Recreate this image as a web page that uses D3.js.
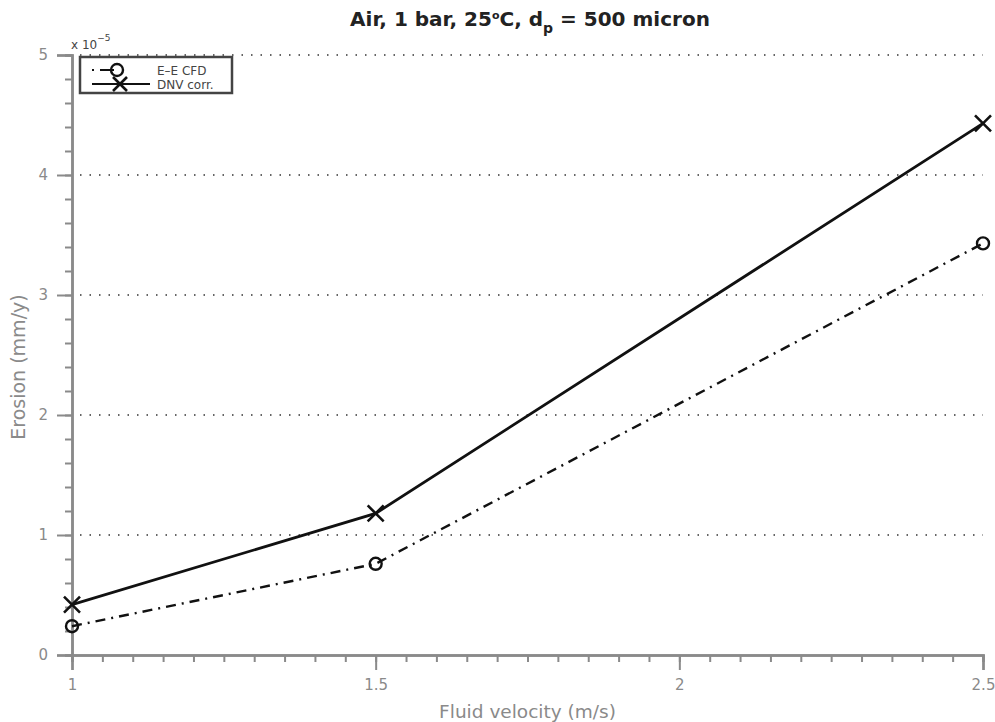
<!DOCTYPE html>
<html><head><meta charset="utf-8">
<script src="https://cdn.jsdelivr.net/npm/d3@7"></script>
<style>body{margin:0;background:#fff}svg{display:block}</style>
</head><body>
<script>
const velocities = [1, 1.5, 2.5];
const eeCfd = [0.24, 0.76, 3.43];
const dnvCorr = [0.42, 1.18, 4.43];
const xTicks = [1, 1.5, 2, 2.5];
const yTicks = [0, 1, 2, 3, 4, 5];
const seriesNames = ["E\u2013E CFD", "DNV corr."];

const W = 995, H = 722;
const svg = d3.select("body").append("svg").attr("width", W).attr("height", H);
const x = d3.scaleLinear().domain([1, 2.5]).range([72, 983]);
const y = d3.scaleLinear().domain([0, 5]).range([655, 55]);
const gray = "#8a8a8a";
const font = "DejaVu Sans, Verdana, sans-serif";

// grid
svg.append("g").selectAll("line").data(yTicks.filter(d => d > 0)).join("line")
  .attr("x1", x(1) + 8).attr("x2", x(2.5)).attr("y1", d => y(d)).attr("y2", d => y(d))
  .attr("stroke", "#333").attr("stroke-width", 1.3).attr("stroke-dasharray", "1.5,8");

// axes
const xAxis = d3.axisBottom(x).tickValues(xTicks).tickSize(15).tickFormat(d3.format("~g")).tickPadding(9);
const xMinor = d3.axisBottom(x).tickValues(d3.range(1, 2.5001, 0.05)).tickSize(7).tickFormat("");
const yAxis = d3.axisLeft(y).tickValues(yTicks).tickSize(15).tickFormat(d3.format("~g")).tickPadding(9);
const yMinor = d3.axisLeft(y).tickValues(d3.range(0, 5.001, 0.2)).tickSize(7).tickFormat("");

function style(g) {
  g.select(".domain").attr("stroke", gray).attr("stroke-width", 2.5);
  g.selectAll(".tick line").attr("stroke", gray).attr("stroke-width", 2);
  g.selectAll(".tick text").attr("fill", gray).attr("font-family", font).attr("font-size", 15);
}
svg.append("g").attr("transform", `translate(0,${y(0)})`).call(xMinor).call(style);
svg.append("g").attr("transform", `translate(0,${y(0)})`).call(xAxis).call(style);
svg.append("g").attr("transform", `translate(${x(1)},0)`).call(yMinor).call(style);
svg.append("g").attr("transform", `translate(${x(1)},0)`).call(yAxis).call(style);

// lines
const ee = velocities.map((v, i) => [v, eeCfd[i]]);
const dnv = velocities.map((v, i) => [v, dnvCorr[i]]);
const line = d3.line().x(d => x(d[0])).y(d => y(d[1]));
svg.append("path").attr("d", line(ee)).attr("fill", "none").attr("stroke", "#111")
  .attr("stroke-width", 2.4).attr("stroke-dasharray", "10,6,2,6");
svg.append("path").attr("d", line(dnv)).attr("fill", "none").attr("stroke", "#111").attr("stroke-width", 2.8);

function circleMark(g, cx, cy) {
  g.append("circle").attr("cx", cx).attr("cy", cy).attr("r", 6).attr("fill", "none").attr("stroke", "#111").attr("stroke-width", 2.4);
}
function crossMark(g, cx, cy, s = 8) {
  g.append("path").attr("d", `M${cx - s},${cy - s}L${cx + s},${cy + s}M${cx - s},${cy + s}L${cx + s},${cy - s}`)
    .attr("stroke", "#111").attr("stroke-width", 2.6);
}
ee.forEach(d => circleMark(svg, x(d[0]), y(d[1])));
dnv.forEach(d => crossMark(svg, x(d[0]), y(d[1])));

// legend
const lg = svg.append("g");
lg.append("rect").attr("x", 80).attr("y", 57).attr("width", 152).attr("height", 36)
  .attr("fill", "#fff").attr("stroke", "#444").attr("stroke-width", 2.5);
lg.append("line").attr("x1", 92).attr("x2", 140).attr("y1", 70).attr("y2", 70)
  .attr("stroke", "#111").attr("stroke-width", 2).attr("stroke-dasharray", "2,6,14,100");
circleMark(lg, 117, 70);
lg.append("line").attr("x1", 92).attr("x2", 150).attr("y1", 84).attr("y2", 84).attr("stroke", "#111").attr("stroke-width", 2.2);
crossMark(lg, 120, 84, 7);
lg.append("text").attr("x", 157).attr("y", 75).text(seriesNames[0])
  .attr("font-family", font).attr("font-size", 12).attr("fill", "#444");
lg.append("text").attr("x", 157).attr("y", 89).text(seriesNames[1])
  .attr("font-family", font).attr("font-size", 12).attr("fill", "#444");

// exponent
const ex = svg.append("text").attr("x", 71).attr("y", 49).attr("font-family", font).attr("font-size", 12).attr("fill", "#444");
ex.append("tspan").text("x 10");
ex.append("tspan").attr("dy", -8).attr("font-size", 9).text("\u22125");

// title
const t = svg.append("text").attr("x", 530).attr("y", 26).attr("text-anchor", "middle")
  .attr("font-family", font).attr("font-size", 20).attr("font-weight", "bold").attr("fill", "#222");
t.append("tspan").text("Air, 1 bar, 25");
t.append("tspan").attr("dy", -7).attr("font-size", 11).text("o");
t.append("tspan").attr("dy", 7).text("C, d");
t.append("tspan").attr("dy", 7).attr("font-size", 14).text("p");
t.append("tspan").attr("dy", -7).text(" = 500 micron");

// axis labels
svg.append("text").attr("x", x(1.75)).attr("y", 718).attr("text-anchor", "middle")
  .attr("font-family", font).attr("font-size", 18.5).attr("fill", gray).text("Fluid velocity (m/s)");
svg.append("text").attr("transform", "translate(25,367) rotate(-90)").attr("text-anchor", "middle")
  .attr("font-family", font).attr("font-size", 19).attr("fill", gray).text("Erosion (mm/y)");
</script>
</body></html>
